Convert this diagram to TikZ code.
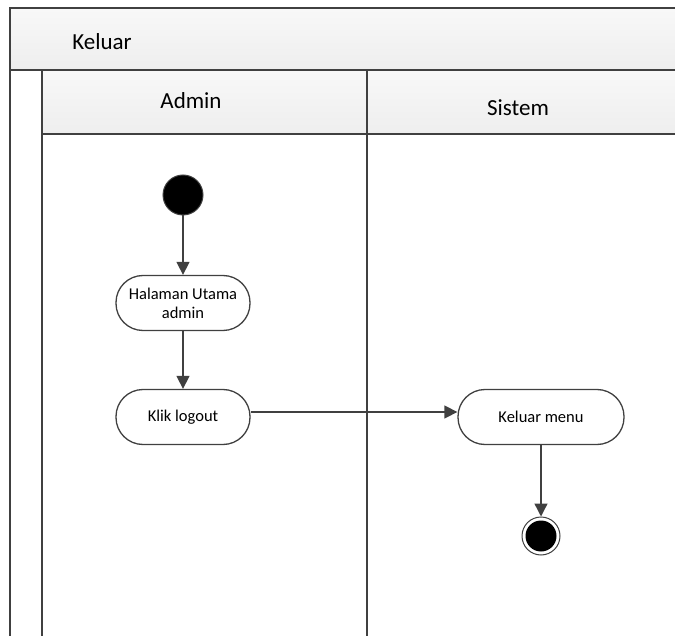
\documentclass[tikz,border=0pt]{standalone}
\usepackage{fontspec}
\setmainfont{Carlito}
\usetikzlibrary{arrows.meta,positioning}
\definecolor{linegray}{HTML}{404040}
\definecolor{headtop}{HTML}{F8F8F8}
\definecolor{headbot}{HTML}{EEEEEE}

\begin{document}
\begin{tikzpicture}[x=1pt, y=-1pt, >={Triangle[length=13pt,width=13pt]},
    every node/.style={font=\fontsize{16.5}{19}\selectfont},
    headtext/.style={font=\fontsize{23}{27}\selectfont},
    laneline/.style={draw=linegray, line width=1.4pt},
    actbox/.style={rectangle, rounded corners=27pt, draw=linegray, line width=1.3pt, fill=white,
        minimum height=55pt, minimum width=134pt, align=center, inner xsep=3pt},
    flow/.style={->, draw=linegray, line width=1.4pt}]
    \useasboundingbox (0,0) rectangle (675,636);

    % Pool and lane headers
    \shade[top color=headtop, bottom color=headbot] (10,8) rectangle (675,70);
    \shade[top color=headtop, bottom color=headbot] (42,70) rectangle (675,134);
    \draw[laneline] (675,8) -- (10,8) -- (10,636);
    \draw[laneline] (10,70) -- (675,70);
    \draw[laneline] (42,70) -- (42,636);
    \draw[laneline] (367,70) -- (367,636);
    \draw[laneline] (42,134) -- (675,134);

    \node[headtext] (pool) at (102,42) {Keluar};
    \node[headtext] (admin) at (191,101) {Admin};
    \node[headtext] (sistem) at (518,108) {Sistem};

    % Activities
    \node[circle, fill=black, draw=linegray, line width=1pt, minimum size=40pt, inner sep=0pt] (start) at (183,195) {};
    \node[actbox] (utama) at (183,303) {Halaman Utama\\admin};
    \node[actbox] (logout) at (183,417) {Klik logout};
    \node[actbox, minimum width=166pt] (menu) at (541,417) {Keluar menu};
    \node[circle, fill=white, draw=linegray, line width=1pt, minimum size=38pt, inner sep=0pt] (stop) at (541,536) {};
    \node[circle, fill=black, minimum size=31pt, inner sep=0pt] (stopdot) at (stop) {};

    % Flow
    \draw[flow] (start) -- (utama);
    \draw[flow] (utama) -- (logout);
    \draw[flow] ([yshift=5pt]logout.east) -- ([yshift=5pt]menu.west);
    \draw[flow] (menu) -- (stop);

\end{tikzpicture}
\end{document}
